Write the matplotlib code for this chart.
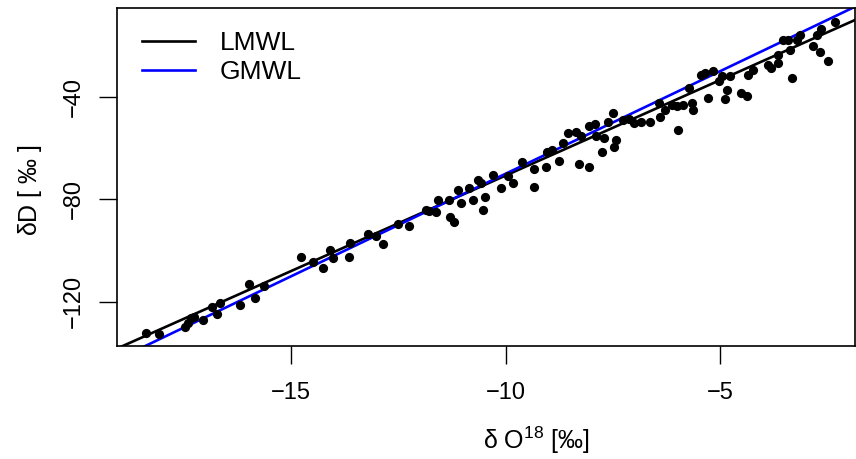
import numpy as np
import matplotlib
matplotlib.use("Agg")
import matplotlib.pyplot as plt

plt.rcParams['font.family'] = ['Liberation Sans', 'DejaVu Sans']
plt.rcParams['mathtext.default'] = 'regular'

# isotope samples (delta O18, delta D)
d18O = [-18.38, -18.07, -17.47, -17.40, -17.33, -17.26, -17.05, -16.84, -16.72, -16.65,
        -16.19, -15.98, -15.84, -15.63, -14.77, -14.49, -14.25, -14.09, -14.02, -13.65,
        -13.63, -13.21, -13.02, -12.86, -12.51, -12.25, -11.86, -11.79, -11.62, -11.58,
        -11.32, -11.30, -11.20, -11.11, -11.04, -10.86, -10.76, -10.65, -10.58, -10.53,
        -10.48, -10.30, -10.11, -9.95, -9.83, -9.62, -9.34, -9.34, -9.06, -9.04,
        -8.92, -8.76, -8.67, -8.55, -8.36, -8.29, -8.25, -8.06, -8.06, -7.92,
        -7.90, -7.74, -7.71, -7.60, -7.50, -7.43, -7.46, -7.27, -7.13, -7.01,
        -6.85, -6.62, -6.43, -6.39, -6.27, -6.11, -5.97, -5.99, -5.85, -5.73,
        -5.64, -5.62, -5.45, -5.34, -5.27, -5.15, -5.03, -4.94, -4.87, -4.83,
        -4.76, -4.52, -4.36, -4.34, -4.22, -3.89, -3.82, -3.64, -3.64, -3.52,
        -3.41, -3.36, -3.31, -3.20, -3.13, -2.82, -2.73, -2.64, -2.66, -2.47,
        -2.31]
dD = [-132.1, -132.5, -129.8, -128.2, -126.2, -125.9, -127.0, -122.0, -124.7, -120.4,
      -121.2, -113.0, -118.4, -113.8, -102.4, -104.4, -106.7, -99.7, -102.8, -102.4,
      -97.0, -93.5, -94.2, -97.4, -89.6, -90.3, -84.1, -84.5, -84.9, -80.2,
      -80.2, -86.8, -88.8, -76.3, -81.4, -75.5, -80.2, -72.4, -73.6, -84.1,
      -79.0, -70.4, -75.5, -70.8, -73.6, -65.4, -68.1, -75.1, -67.3, -61.5,
      -60.7, -65.0, -58.0, -54.0, -53.7, -66.1, -55.2, -67.3, -51.3, -50.5,
      -55.2, -61.5, -56.0, -49.8, -46.2, -56.8, -59.5, -49.0, -48.6, -50.1,
      -49.8, -49.8, -42.3, -47.8, -45.1, -43.1, -52.9, -43.5, -43.1, -36.5,
      -42.3, -45.1, -31.4, -30.6, -40.4, -29.9, -33.8, -31.8, -40.8, -37.3,
      -31.8, -38.4, -39.6, -31.4, -29.5, -27.5, -28.7, -26.7, -23.6, -17.8,
      -17.8, -21.7, -32.6, -17.8, -15.8, -20.1, -15.8, -13.5, -22.4, -25.9,
      -10.7]

# meteoric water lines: slope, intercept
lmwl = (7.45, 3.8)
gmwl = (8.0, 10.0)

fig = plt.figure(figsize=(8.56, 4.59), dpi=100)
ax = fig.add_axes([117/856, 1 - 346/459, 738/856, 338/459])

ax.scatter(d18O, dD, s=44, color='black', linewidths=0, zorder=3)

xx = np.array([-25.0, 5.0])
ax.plot(xx, lmwl[0]*xx + lmwl[1], color='black', lw=1.9, label='LMWL', zorder=2)
ax.plot(xx, gmwl[0]*xx + gmwl[1], color='blue', lw=1.9, label='GMWL', zorder=2)
ax.set_xlim(-19.06, -1.85)
ax.set_ylim(-137.2, -5.3)

ax.set_xticks([-15, -10, -5])
ax.set_xticklabels(['\u221215', '\u221210', '\u22125'])
ax.set_yticks([-120, -80, -40])
ax.set_yticklabels(['\u2212120', '\u221280', '\u221240'], rotation=90, va='center')
ax.tick_params(direction='out', length=13, width=1, labelsize=17)
ax.tick_params(axis='x', pad=13)
ax.tick_params(axis='y', pad=10)
for s in ax.spines.values():
    s.set_linewidth(1.2)

fig.text(536/856, 1 - 440/459, r'$\delta$ O$^{18}$ [‰]', fontsize=18,
         ha='center', va='center')
fig.text(30/856, 1 - 190/459, r'$\delta$D [ ‰ ]', fontsize=18,
         ha='center', va='center', rotation=90)

ax.legend(loc='upper left', bbox_to_anchor=(0.0339, 0.932), frameon=False,
          fontsize=19, handlelength=2.0, handletextpad=0.95, borderaxespad=0,
          borderpad=0, labelspacing=0.19)

fig.savefig('out.png', dpi=100)
